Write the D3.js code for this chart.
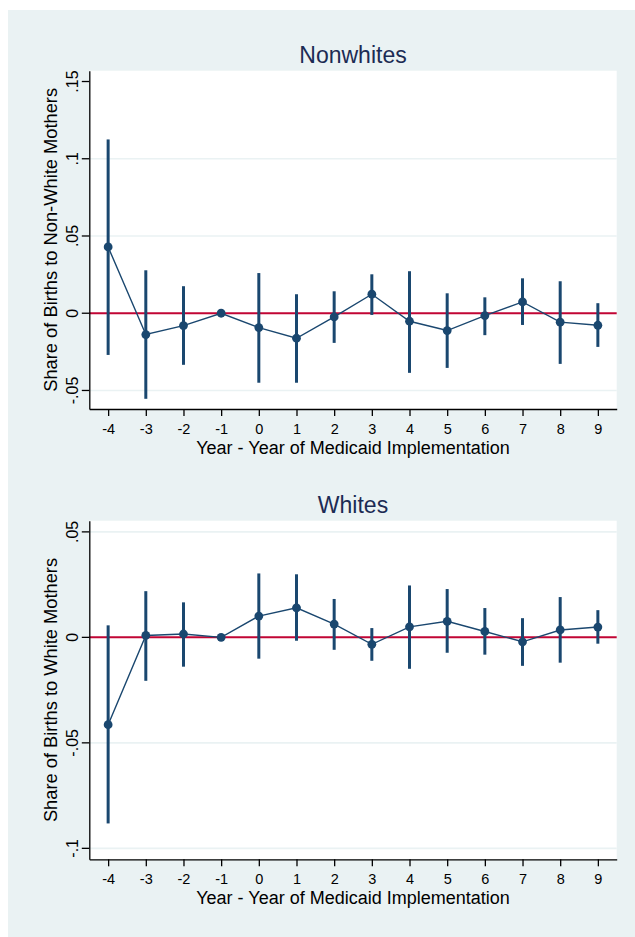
<!DOCTYPE html>
<html>
<head>
<meta charset="utf-8">
<script src="https://cdn.jsdelivr.net/npm/d3@7"></script>
<style>
  body { margin: 0; background: #fff; }
  text { font-family: "Liberation Sans", Arial, sans-serif; }
</style>
</head>
<body>
<div id="chart-area"></div>
<script>
// event-study estimates
var years = [-4, -3, -2, -1, 0, 1, 2, 3, 4, 5, 6, 7, 8, 9];

var nonwhiteEst = [0.0429, -0.0138, -0.0080, 0, -0.0093, -0.0162, -0.0024, 0.0123, -0.0052, -0.0112, -0.0015, 0.0073, -0.0058, -0.0078];
var nonwhiteLo  = [-0.0270, -0.0554, -0.0334, null, -0.0450, -0.0450, -0.0192, -0.0011, -0.0386, -0.0354, -0.0142, -0.0076, -0.0328, -0.0218];
var nonwhiteHi  = [0.1125, 0.0278, 0.0175, null, 0.0260, 0.0123, 0.0142, 0.0252, 0.0272, 0.0129, 0.0103, 0.0226, 0.0207, 0.0065];

var whiteEst = [-0.0414, 0.0009, 0.0016, 0, 0.0101, 0.0140, 0.0063, -0.0033, 0.0050, 0.0076, 0.0028, -0.0021, 0.0035, 0.0049];
var whiteLo  = [-0.0882, -0.0206, -0.0139, null, -0.0101, -0.0016, -0.0059, -0.0111, -0.0149, -0.0073, -0.0082, -0.0135, -0.0120, -0.0030];
var whiteHi  = [0.0057, 0.0219, 0.0166, null, 0.0303, 0.0299, 0.0182, 0.0044, 0.0246, 0.0229, 0.0139, 0.0091, 0.0191, 0.0129];

var nonwhiteTicks = [-0.05, 0, 0.05, 0.1, 0.15];
var nonwhiteTickLabels = ['-.05', '0', '.05', '.1', '.15'];
var nonwhiteGrid = [-0.05, 0.05, 0.1];

var whiteTicks = [-0.1, -0.05, 0, 0.05];
var whiteTickLabels = ['-.1', '-.05', '0', '.05'];
var whiteGrid = [-0.1, -0.05, 0.05];

var W = 635, H = 937;
var navy = '#1a476f', red = '#c10534', bg = '#eaf2f3';

var svg = d3.select('#chart-area')
    .append('svg')
        .attr('width', W)
        .attr('height', H);

svg.append('rect')
    .attr('x', 8).attr('y', 10)
    .attr('width', W - 8).attr('height', H - 10)
    .attr('fill', bg);

var left = 89.3, right = 616.7;

var x = d3.scaleLinear()
    .domain([-4.5, 9.5])
    .range([left, right]);

function drawPanel(p) {
    var y = d3.scaleLinear()
        .domain(p.yDomain)
        .range([p.bottom, p.top]);

    var g = svg.append('g');

    g.append('rect')
        .attr('x', left).attr('y', p.top)
        .attr('width', right - left).attr('height', p.bottom - p.top)
        .attr('fill', '#fff');

    // gridlines
    g.selectAll('.grid')
        .data(p.grid)
        .enter().append('line')
            .attr('x1', left).attr('x2', right)
            .attr('y1', d => y(d)).attr('y2', d => y(d))
            .attr('stroke', bg)
            .attr('stroke-width', 1.6);

    // reference line at zero
    g.append('line')
        .attr('x1', left).attr('x2', right)
        .attr('y1', y(0)).attr('y2', y(0))
        .attr('stroke', red)
        .attr('stroke-width', 2);

    var yAxisCall = d3.axisLeft(y)
        .tickValues(p.ticks)
        .tickFormat((d, i) => p.tickLabels[i])
        .tickSize(7.5)
        .tickSizeOuter(0);
    var yAx = g.append('g')
        .attr('transform', 'translate(' + left + ',0)')
        .call(yAxisCall);
    yAx.selectAll('.tick').attr('transform', null);
    yAx.selectAll('.tick line').attr('y1', d => y(d)).attr('y2', d => y(d));
    yAx.selectAll('text')
        .attr('x', 0).attr('dy', 0).attr('y', 0)
        .attr('text-anchor', 'middle')
        .attr('transform', d => 'translate(-11.5,' + y(d) + ') rotate(-90)')
        .attr('font-size', '16px')
        .attr('fill', '#000');

    var xAxisCall = d3.axisBottom(x)
        .tickValues(years)
        .tickFormat(d => String(d))
        .tickSize(7)
        .tickSizeOuter(0);
    var xAx = g.append('g')
        .attr('transform', 'translate(0,' + p.bottom + ')')
        .call(xAxisCall);
    xAx.selectAll('text')
        .attr('font-size', '14.5px')
        .attr('dy', 0)
        .attr('y', 24.5)
        .attr('fill', '#000');

    g.selectAll('.domain, .tick line')
        .attr('stroke', '#000')
        .attr('stroke-width', 1.3);

    // error bars
    var ci = years.map((yr, i) => ({ yr: yr, lo: p.lo[i], hi: p.hi[i] }))
        .filter(d => d.lo !== null);
    g.selectAll('.ci')
        .data(ci)
        .enter().append('line')
            .attr('x1', d => x(d.yr)).attr('x2', d => x(d.yr))
            .attr('y1', d => y(d.lo)).attr('y2', d => y(d.hi))
            .attr('stroke', navy)
            .attr('stroke-width', 3);

    var pts = years.map((yr, i) => ({ yr: yr, v: p.est[i] }));

    var line = d3.line()
        .x(d => x(d.yr))
        .y(d => y(d.v));
    g.append('path')
        .datum(pts)
        .attr('d', line)
        .attr('fill', 'none')
        .attr('stroke', navy)
        .attr('stroke-width', 1.4);

    g.selectAll('.pt')
        .data(pts)
        .enter().append('circle')
            .attr('cx', d => x(d.yr))
            .attr('cy', d => y(d.v))
            .attr('r', 4.4)
            .attr('fill', navy);

    // titles
    g.append('text')
        .attr('x', (left + right) / 2)
        .attr('y', p.top - 7.5)
        .attr('text-anchor', 'middle')
        .attr('font-size', '23px')
        .attr('fill', '#1c2b54')
        .text(p.title);

    g.append('text')
        .attr('x', (left + right) / 2)
        .attr('y', p.bottom + 44.5)
        .attr('text-anchor', 'middle')
        .attr('font-size', '18px')
        .text('Year - Year of Medicaid Implementation');

    g.append('text')
        .attr('transform', 'translate(57,' + (p.top + p.bottom) / 2 + ') rotate(-90)')
        .attr('text-anchor', 'middle')
        .attr('font-size', '18.3px')
        .text(p.yTitle);
}

drawPanel({
    title: 'Nonwhites',
    yTitle: 'Share of Births to Non-White Mothers',
    top: 70.7, bottom: 409,
    yDomain: [-0.062, 0.157],
    ticks: nonwhiteTicks, tickLabels: nonwhiteTickLabels, grid: nonwhiteGrid,
    est: nonwhiteEst, lo: nonwhiteLo, hi: nonwhiteHi
});

drawPanel({
    title: 'Whites',
    yTitle: 'Share of Births to White Mothers',
    top: 520.7, bottom: 859.3,
    yDomain: [-0.1052, 0.0553],
    ticks: whiteTicks, tickLabels: whiteTickLabels, grid: whiteGrid,
    est: whiteEst, lo: whiteLo, hi: whiteHi
});
</script>
</body>
</html>
